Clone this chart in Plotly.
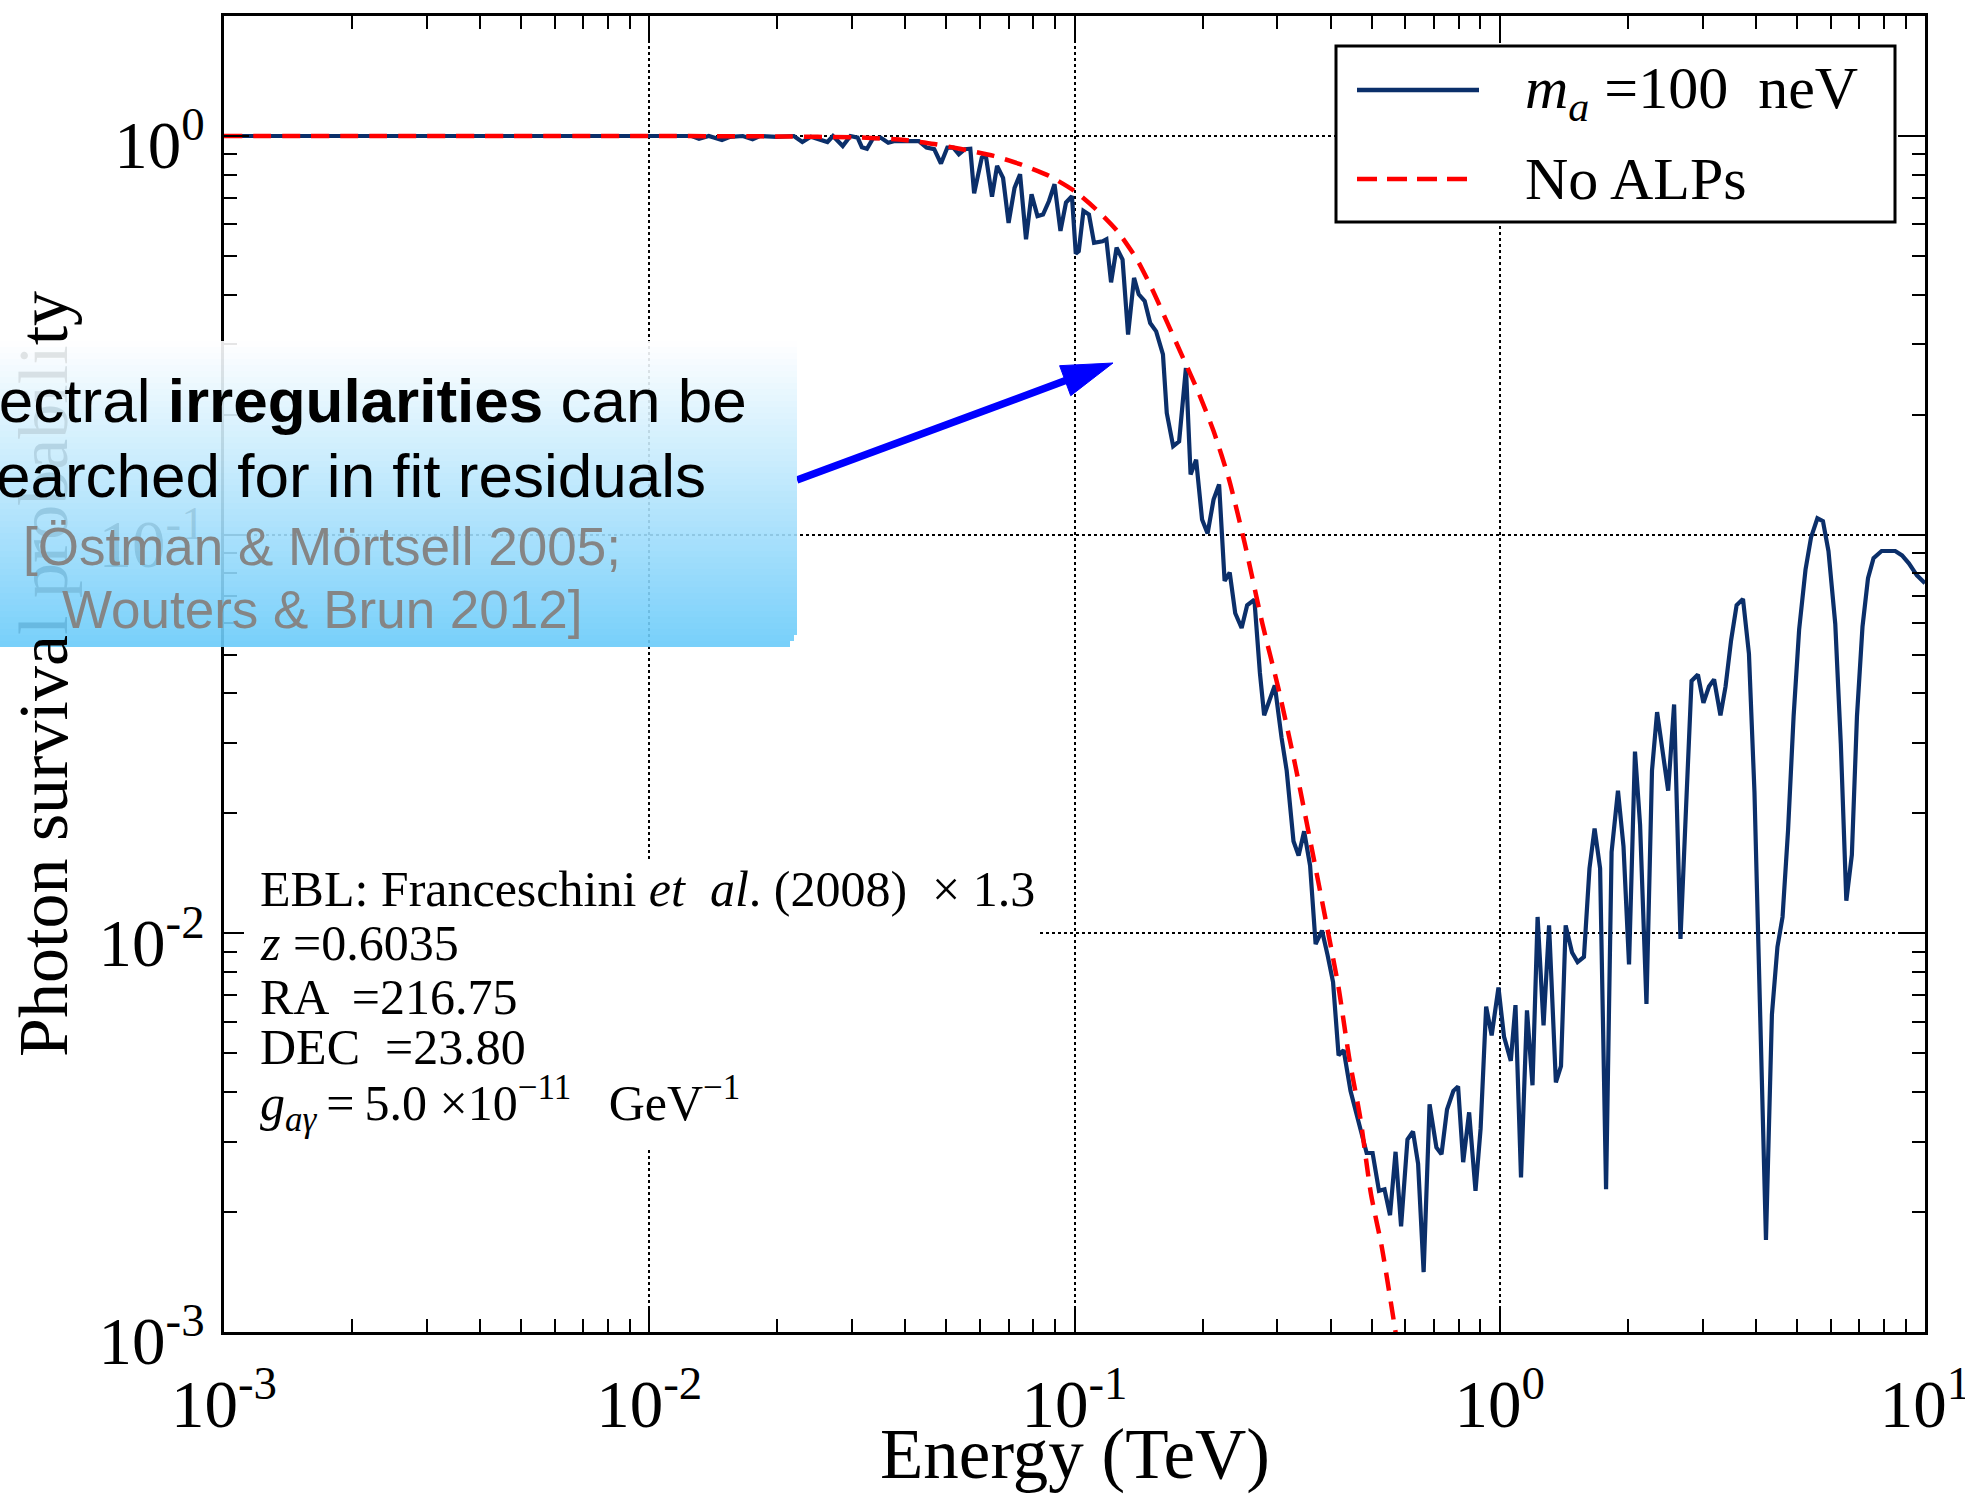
import numpy as np
import plotly.graph_objects as go

# ---------------- data (log10 of energy in TeV, log10 of survival probability) -------------
log_energy_alp = [
    -3.0, -2.5, -2.0, -1.95, -1.90, -1.883, -1.86, -1.829, -1.81, -1.78, -1.757, -1.74,
    -1.70, -1.66, -1.640, -1.62, -1.60, -1.581, -1.568, -1.545, -1.527, -1.51, -1.500,
    -1.488, -1.474, -1.456, -1.438, -1.425, -1.40, -1.366, -1.348, -1.330, -1.314, -1.299,
    -1.285, -1.272, -1.258, -1.245, -1.236, -1.218, -1.209, -1.194, -1.182, -1.168, -1.155,
    -1.141, -1.128, -1.114, -1.101, -1.087, -1.074, -1.060, -1.047, -1.033, -1.020, -1.006,
    -0.997, -0.990, -0.979, -0.966, -0.954, -0.934, -0.925, -0.914, -0.901, -0.887, -0.874,
    -0.860, -0.849, -0.835, -0.822, -0.808, -0.792, -0.783, -0.768, -0.754, -0.738, -0.727,
    -0.714, -0.700, -0.687, -0.673, -0.660, -0.647, -0.635, -0.622, -0.607, -0.594, -0.577,
    -0.564, -0.554, -0.529, -0.513, -0.501, -0.485, -0.473, -0.460, -0.446, -0.433, -0.418,
    -0.405, -0.392, -0.379, -0.367, -0.351, -0.338, -0.322, -0.313, -0.299, -0.284, -0.271,
    -0.258, -0.245, -0.232, -0.217, -0.204, -0.192, -0.179, -0.165, -0.149, -0.137, -0.124,
    -0.109, -0.098, -0.086, -0.072, -0.057, -0.045, -0.032, -0.019, -0.003, 0.010, 0.026,
    0.037, 0.050, 0.064, 0.077, 0.089, 0.103, 0.116, 0.132, 0.144, 0.155, 0.170, 0.183,
    0.198, 0.211, 0.223, 0.236, 0.250, 0.263, 0.278, 0.291, 0.304, 0.318, 0.330, 0.345,
    0.358, 0.370, 0.383, 0.396, 0.410, 0.425, 0.438, 0.451, 0.466, 0.479, 0.492, 0.504,
    0.519, 0.531, 0.544, 0.557, 0.572, 0.586, 0.599, 0.612, 0.626, 0.640, 0.653, 0.665,
    0.678, 0.691, 0.704, 0.719, 0.732, 0.747, 0.760, 0.773, 0.789, 0.802, 0.815, 0.828,
    0.840, 0.853, 0.866, 0.879, 0.898, 0.930, 0.946, 0.962, 0.981, 1.0,
]
log_survival_alp = [
    0.0, 0.0, 0.0, -0.001, 0.0, -0.007, 0.0, -0.010, -0.002, 0.0, -0.008, 0.0,
    -0.002, 0.0, -0.015, -0.002, -0.008, -0.015, 0.0, -0.025, 0.0, -0.004, -0.028,
    -0.032, -0.006, -0.004, -0.017, -0.013, -0.013, -0.013, -0.029, -0.033, -0.069, -0.029,
    -0.029, -0.046, -0.033, -0.032, -0.144, -0.054, -0.046, -0.152, -0.075, -0.105, -0.218,
    -0.130, -0.096, -0.259, -0.146, -0.201, -0.197, -0.163, -0.121, -0.238, -0.167, -0.151,
    -0.295, -0.289, -0.188, -0.197, -0.268, -0.264, -0.259, -0.367, -0.280, -0.310, -0.498,
    -0.356, -0.397, -0.414, -0.469, -0.490, -0.548, -0.695, -0.778, -0.766, -0.582, -0.849,
    -0.812, -0.962, -0.997, -0.912, -0.874, -1.116, -1.095, -1.197, -1.234, -1.177, -1.163,
    -1.347, -1.453, -1.378, -1.510, -1.592, -1.769, -1.805, -1.744, -1.830, -2.027, -1.993,
    -2.054, -2.122, -2.306, -2.293, -2.395, -2.449, -2.517, -2.551, -2.551, -2.646, -2.642,
    -2.707, -2.548, -2.735, -2.517, -2.497, -2.578, -2.850, -2.429, -2.537, -2.554, -2.442,
    -2.395, -2.384, -2.574, -2.449, -2.646, -2.490, -2.184, -2.256, -2.136, -2.259, -2.320,
    -2.180, -2.612, -2.193, -2.381, -1.959, -2.231, -1.980, -2.374, -2.333, -1.980, -2.048,
    -2.072, -2.059, -1.837, -1.737, -1.837, -2.642, -1.796, -1.642, -1.782, -2.078, -1.544,
    -1.728, -2.177, -1.592, -1.445, -1.544, -1.642, -1.426, -2.014, -1.687, -1.367, -1.351,
    -1.422, -1.381, -1.363, -1.453, -1.381, -1.265, -1.177, -1.161, -1.299, -1.646, -2.204,
    -2.769, -2.204, -2.034, -1.959, -1.741, -1.456, -1.238, -1.088, -1.007, -0.959, -0.966,
    -1.041, -1.224, -1.524, -1.918, -1.803, -1.456, -1.231, -1.109, -1.059, -1.041, -1.041,
    -1.052, -1.072, -1.102, -1.122,
]
log_energy_noalp = [
    -3.0, -2.0, -1.7, -1.5, -1.4, -1.33, -1.27, -1.19, -1.13, -1.06, -1.0, -0.943,
    -0.898, -0.853, -0.817, -0.781, -0.745, -0.709, -0.673, -0.637, -0.60, -0.558, -0.520,
    -0.481, -0.443, -0.405, -0.379, -0.354, -0.328, -0.303, -0.277, -0.245, -0.23,
]
log_survival_noalp = [
    0.0, 0.0, -0.001, -0.004, -0.010, -0.020, -0.032, -0.050, -0.070, -0.100, -0.138, -0.190,
    -0.240, -0.310, -0.385, -0.470, -0.556, -0.642, -0.740, -0.860, -1.02, -1.224, -1.388,
    -1.578, -1.782, -1.990, -2.136, -2.313, -2.463, -2.653, -2.789, -3.0, -3.1,
]

x_tick_values = [1e-3, 1e-2, 1e-1, 1e0, 1e1]
x_tick_labels = ["10<sup>-3</sup>", "10<sup>-2</sup>", "10<sup>-1</sup>", "10<sup>0</sup>", "10<sup>1</sup>"]
y_tick_values = [1e-3, 1e-2, 1e-1, 1e0]
y_tick_labels = ["10<sup>-3</sup>", "10<sup>-2</sup>", "10<sup>-1</sup>", "10<sup>0</sup>"]
minor_digits = [2, 3, 4, 5, 6, 7, 8, 9]

legend_labels = ["<i>m</i><sub><i>a</i></sub> =100  neV", "No ALPs"]
x_title = "Energy (TeV)"
y_title = "Photon survival probability"
info_lines = [
    "EBL: Franceschini <i>et  al</i>. (2008)  \u00d7 1.3",
    "<i>z</i> =0.6035",
    "RA  =216.75",
    "DEC  =23.80",
    "<i>g</i><sub><i>a\u03b3</i></sub>\u2009=\u20095.0 \u00d710<sup>\u221211</sup>\u2002 GeV<sup>\u22121</sup>",
]
box_lines = [
    "Spectral <b>irregularities</b> can be",
    "searched for in fit residuals",
    "[\u00d6stman &amp; M\u00f6rtsell 2005;",
    "Wouters &amp; Brun 2012]",
]

energy_alp = 10 ** np.array(log_energy_alp)
survival_alp = 10 ** np.array(log_survival_alp)
energy_noalp = 10 ** np.array(log_energy_noalp)
survival_noalp = 10 ** np.array(log_survival_noalp)

# ---------------- geometry helpers (plot area in pixels) ----------------
FW, FH = 1965, 1494
L, R, T, B = 224, 1925, 16, 1332
PW, PH = R - L, B - T


def px_x(X):
    return (X - L) / PW


def px_y(Y):
    return (B - Y) / PH


BLUE = "#0b2f6a"
RED = "#ff0000"
SERIF = "Liberation Serif"
SANS = "Liberation Sans"

fig = go.Figure()
fig.add_trace(go.Scatter(x=energy_alp, y=survival_alp, mode="lines",
                         line=dict(color=BLUE, width=4.2), showlegend=False))
fig.add_trace(go.Scatter(x=energy_noalp, y=survival_noalp, mode="lines",
                         line=dict(color=RED, width=4.5, dash="18px,11px", shape="spline", smoothing=0.6),
                         showlegend=False))

minor_x = [d * 10.0 ** e for e in range(-3, 1) for d in minor_digits]
minor_y = [d * 10.0 ** e for e in range(-3, 0) for d in minor_digits] + [2.0]

axis_common = dict(
    showline=True, linecolor="black", linewidth=3, mirror="ticks",
    ticks="inside", ticklen=25, tickwidth=2, tickcolor="black",
    showgrid=True, gridcolor="black", gridwidth=1.5, griddash="dot",
    zeroline=False, tickfont=dict(family=SERIF, size=67, color="black"),
    ticklabeloverflow="allow", automargin=False,
)
fig.update_xaxes(type="log", range=[-3, 1], tickmode="array", tickvals=x_tick_values,
                 ticktext=x_tick_labels, ticklabelstandoff=12,
                 minor=dict(tickvals=minor_x, ticks="inside", ticklen=13, tickwidth=2,
                            tickcolor="black", showgrid=False),
                 **axis_common)
fig.update_yaxes(type="log", range=[-3, np.log10(2.0)], tickmode="array", tickvals=y_tick_values,
                 ticktext=y_tick_labels, ticklabelstandoff=3, ticklabelshift=9,
                 minor=dict(tickvals=minor_y, ticks="inside", ticklen=13, tickwidth=2,
                            tickcolor="black", showgrid=False),
                 **axis_common)

shapes = []
annotations = []

# white background behind parameter text
shapes.append(dict(type="rect", xref="paper", yref="paper", x0=px_x(244), x1=px_x(1038),
                   y0=px_y(1150), y1=px_y(862), fillcolor="white", line=dict(width=0), layer="above"))

# legend frame and samples
shapes.append(dict(type="rect", xref="paper", yref="paper", x0=px_x(1336), x1=px_x(1895),
                   y0=px_y(222), y1=px_y(46), fillcolor="white", line=dict(color="black", width=3),
                   layer="above"))
shapes.append(dict(type="line", xref="paper", yref="paper", x0=px_x(1357), x1=px_x(1479),
                   y0=px_y(90), y1=px_y(90), line=dict(color=BLUE, width=4.5), layer="above"))
shapes.append(dict(type="line", xref="paper", yref="paper", x0=px_x(1357), x1=px_x(1470),
                   y0=px_y(179), y1=px_y(179), line=dict(color=RED, width=4.5, dash="20px,10px"),
                   layer="above"))
for lab, yc in zip(legend_labels, [92, 179]):
    annotations.append(dict(text=lab, xref="paper", yref="paper", x=px_x(1523), y=px_y(yc),
                            xanchor="left", yanchor="middle", showarrow=False,
                            font=dict(family=SERIF, size=60, color="black")))

# arrow (line + head)
tail = np.array([797.0, 480.0])
tip = np.array([1113.0, 363.0])
u = (tip - tail) / np.linalg.norm(tip - tail)
n = np.array([-u[1], u[0]])
base = tip - 51 * u
c1 = base + 16 * n
c2 = base - 16 * n
shapes.append(dict(type="line", xref="paper", yref="paper", x0=px_x(tail[0]), y0=px_y(tail[1]),
                   x1=px_x(base[0] + 4 * u[0]), y1=px_y(base[1] + 4 * u[1]),
                   line=dict(color="#0000ff", width=7.5), layer="above"))
path = "M {:.5f},{:.5f} L {:.5f},{:.5f} L {:.5f},{:.5f} Z".format(
    px_x(tip[0]), px_y(tip[1]), px_x(c1[0]), px_y(c1[1]), px_x(c2[0]), px_y(c2[1]))
shapes.append(dict(type="path", xref="paper", yref="paper", path=path, fillcolor="#0000ff",
                   line=dict(color="#0000ff", width=1), layer="above"))

# gradient callout box (semi-transparent, drawn as thin horizontal bands)
box_top, box_bot, box_left, box_right = 341, 647, -12, 797
band = 6
nband = (box_bot - box_top) // band
BOX_TOP_RGB = np.array([255.0, 255.0, 255.0])
BOX_BOT_RGB = np.array([105.0, 202.0, 250.0])
BOX_ALPHA = 0.9


def box_rgb(ypix):
    f = min(max((ypix - box_top) / (box_bot - box_top), 0.0), 1.0)
    return BOX_TOP_RGB + f * (BOX_BOT_RGB - BOX_TOP_RGB)


for i in range(nband):
    y0 = box_top + i * band
    c = box_rgb(y0 + band / 2)
    right = box_right
    if i >= nband - 2:  # slightly rounded lower-right corner
        right = box_right - (3 if i == nband - 2 else 7)
    shapes.append(dict(type="rect", xref="paper", yref="paper", x0=px_x(box_left), x1=px_x(right),
                       y0=px_y(y0 + band), y1=px_y(y0), layer="above", line=dict(width=0),
                       fillcolor="rgba({:.0f},{:.0f},{:.0f},{})".format(c[0], c[1], c[2], BOX_ALPHA)))

# axis titles (the y title is partly seen through the callout box, so the hidden
# letters are tinted with the colour of the box in front of them)
annotations.append(dict(text=x_title, xref="paper", yref="paper", x=px_x(1075), y=px_y(1455),
                        xanchor="center", yanchor="middle", showarrow=False,
                        font=dict(family=SERIF, size=71, color="black")))

TITLE_SIZE = 70
times_w = {"P": .556, "h": .5, "o": .5, "t": .278, "n": .5, " ": .25, "s": .389, "u": .5,
           "r": .333, "v": .5, "i": .278, "a": .444, "l": .278, "p": .5, "b": .5, "y": .5}
title_len = sum(times_w[ch] for ch in y_title) * TITLE_SIZE
title_cy = 674
start = title_cy + title_len / 2
pieces = []
cum = 0.0
for ch in y_title:
    w = times_w[ch] * TITLE_SIZE
    ymid = start - (cum + w / 2)
    cum += w
    if box_top < ymid < box_bot:
        c = BOX_ALPHA * box_rgb(ymid)
        pieces.append('<span style="color:rgb({:.0f},{:.0f},{:.0f})">{}</span>'.format(c[0], c[1], c[2], ch))
    else:
        pieces.append(ch)
annotations.append(dict(text="".join(pieces), xref="paper", yref="paper", x=px_x(43), y=px_y(title_cy),
                        xanchor="center", yanchor="middle", showarrow=False, textangle=-90,
                        font=dict(family=SERIF, size=TITLE_SIZE, color="black")))

# parameter text
for line, yc in zip(info_lines, [889, 943, 997, 1047, 1103]):
    annotations.append(dict(text=line, xref="paper", yref="paper", x=px_x(258), y=px_y(yc),
                            xanchor="left", yanchor="middle", showarrow=False,
                            font=dict(family=SERIF, size=50, color="black")))

box_specs = [(box_lines[0], 335, 401, 62, "black"), (box_lines[1], 335, 476, 62, "black"),
             (box_lines[2], 322, 546, 53, "#858585"), (box_lines[3], 322, 609, 53, "#858585")]
for txt, xc, yc, sz, col in box_specs:
    annotations.append(dict(text=txt, xref="paper", yref="paper", x=px_x(xc), y=px_y(yc),
                            xanchor="center", yanchor="middle", showarrow=False,
                            font=dict(family=SANS, size=sz, color=col)))

fig.update_layout(
    width=FW, height=FH,
    margin=dict(l=L, r=FW - R, t=T, b=FH - B, pad=0, autoexpand=False),
    paper_bgcolor="white", plot_bgcolor="white",
    showlegend=False,
    shapes=shapes, annotations=annotations,
)

fig.write_html("out.html", config={"displayModeBar": False},
               post_script="document.body.style.margin='0px';document.body.style.overflow='hidden';")
